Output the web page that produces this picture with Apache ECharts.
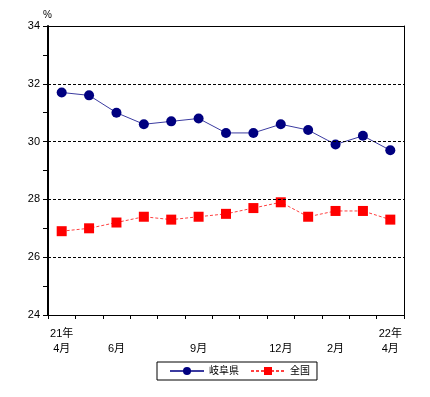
<!DOCTYPE html>
<html>
<head>
<meta charset="utf-8">
<script src="https://cdn.jsdelivr.net/npm/echarts@6/dist/echarts.min.js"></script>
<style>
  html, body { margin: 0; padding: 0; background: #fff; }
  #chart { width: 430px; height: 397px; }
</style>
</head>
<body>
<div id="chart"></div>
<script>
// 月 (21年4月〜22年4月)
const months = ['21年\n4月', '', '\n6月', '', '', '\n9月', '', '', '\n12月', '', '\n2月', '', '22年\n4月'];
const seriesNames = ['岐阜県', '全国'];
const gifu = [31.7, 31.6, 31.0, 30.6, 30.7, 30.8, 30.3, 30.3, 30.6, 30.4, 29.9, 30.2, 29.7];
const zenkoku = [26.9, 27.0, 27.2, 27.4, 27.3, 27.4, 27.5, 27.7, 27.9, 27.4, 27.6, 27.6, 27.3];

const font = 'Arial, "Noto Sans CJK JP", sans-serif';

let chart = echarts.init(document.getElementById('chart'));
chart.setOption({
    animation: false,
    textStyle: { fontFamily: font },
    grid: { left: 48, right: 26, top: 26, bottom: 82 },
    legend: {
        left: 157, top: 362,
        padding: [4, 7, 4, 12],
        itemGap: 11,
        itemWidth: 34, itemHeight: 10,
        borderColor: '#000', borderWidth: 1,
        textStyle: { color: '#000', fontSize: 10, fontFamily: font },
        data: seriesNames
    },
    xAxis: [{
        type: 'category',
        data: months,
        boundaryGap: true,
        axisLine: { lineStyle: { color: '#000', width: 1 } },
        axisTick: { show: true, interval: 0, length: 4, lineStyle: { color: '#000' } },
        axisLabel: {
            interval: 0, color: '#000', fontSize: 11, lineHeight: 15,
            margin: 11, fontFamily: font
        },
        splitLine: { show: false }
    }, {
        // 上枠
        type: 'category',
        position: 'top',
        data: months,
        z: 5,
        axisLine: { show: true, lineStyle: { color: '#000', width: 1 } },
        axisTick: { show: false },
        axisLabel: { show: false },
        splitLine: { show: false }
    }],
    yAxis: [{
        type: 'value',
        min: 24, max: 34, interval: 2,
        name: '%',
        nameLocation: 'end',
        nameGap: 6,
        nameTextStyle: { color: '#000', fontSize: 10, align: 'right', padding: [0, -4, 0, 0] },
        z: 5,
        axisLine: { show: true, lineStyle: { color: '#000', width: 2 } },
        axisTick: { show: true, length: 5, lineStyle: { color: '#000' } },
        minorTick: { show: true, splitNumber: 2, length: 5, lineStyle: { color: '#000' } },
        axisLabel: { color: '#000', fontSize: 11, margin: 8, fontFamily: font },
        splitLine: { show: true, lineStyle: { color: '#000', type: [3, 2], width: 1 } }
    }, {
        // 右枠
        type: 'value',
        position: 'right',
        min: 24, max: 34, interval: 2,
        z: 5,
        axisLine: { show: true, lineStyle: { color: '#000', width: 1 } },
        axisTick: { show: false },
        axisLabel: { show: false },
        splitLine: { show: false }
    }],
    series: [{
        name: seriesNames[0],
        type: 'line',
        data: gifu,
        symbol: 'circle',
        symbolSize: 10,
        itemStyle: { color: '#000080' },
        lineStyle: { color: '#3b3ba0', width: 1 }
    }, {
        name: seriesNames[1],
        type: 'line',
        data: zenkoku,
        symbol: 'rect',
        symbolSize: 10,
        itemStyle: { color: '#ff0000' },
        lineStyle: { color: '#ff4040', width: 1, type: [3, 2] }
    }]
});
</script>
</body>
</html>
